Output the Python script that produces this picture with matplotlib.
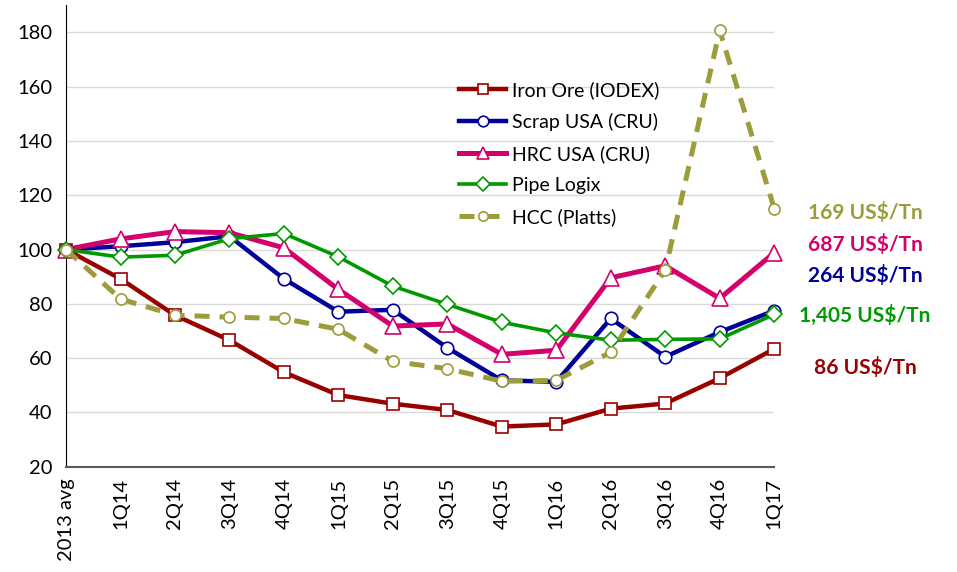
import matplotlib
matplotlib.use('Agg')
import matplotlib.pyplot as plt

plt.rcParams['font.family'] = ['Lato', 'DejaVu Sans']

# quarters
quarters = ['2013 avg', '1Q14', '2Q14', '3Q14', '4Q14', '1Q15', '2Q15', '3Q15',
            '4Q15', '1Q16', '2Q16', '3Q16', '4Q16', '1Q17']

# indices (2013 avg = 100)
iron_ore = [100, 89.2, 75.8, 66.6, 54.8, 46.4, 43.2, 40.9, 34.8, 35.6, 41.4, 43.3, 52.6, 63.4]
scrap_usa = [100, 101.2, 102.7, 104.9, 89.2, 77.1, 77.8, 63.8, 51.8, 51.3, 74.6, 60.5, 69.6, 77.5]
hrc_usa = [100, 103.9, 106.6, 106.2, 100.6, 85.3, 71.8, 72.6, 61.4, 62.9, 89.6, 94.0, 82.0, 98.8]
pipe_logix = [100, 97.2, 97.9, 104.0, 105.9, 97.3, 86.5, 79.8, 73.2, 69.3, 66.6, 66.9, 67.1, 76.1]
hcc_platts = [100, 81.8, 75.8, 75.1, 74.6, 70.6, 58.8, 56.1, 51.5, 51.8, 62.2, 92.4, 180.7, 115.1]

price_labels = ['169 US$/Tn', '687 US$/Tn', '264 US$/Tn', '1,405 US$/Tn', '86 US$/Tn']

c_iron = '#990000'
c_scrap = '#000099'
c_hrc = '#D4006C'
c_pipe = '#009900'
c_hcc = '#9C9C3A'

fig = plt.figure(figsize=(9.57, 5.72), dpi=100)
ax = fig.add_axes([0.069, 0.184, 0.74, 0.807])

x = list(range(len(quarters)))

ax.plot(x, iron_ore, color=c_iron, lw=3.2, marker='s', ms=9, mfc='white', mec=c_iron,
        mew=1.2, label='Iron Ore (IODEX)', clip_on=False, zorder=3)
ax.plot(x, scrap_usa, color=c_scrap, lw=3.2, marker='o', ms=9, mfc='white', mec=c_scrap,
        mew=1.2, label='Scrap USA (CRU)', clip_on=False, zorder=3)
ax.plot(x, hrc_usa, color=c_hrc, lw=3.6, marker='^', ms=11, mfc='white', mec=c_hrc,
        mew=1.2, label='HRC USA (CRU)', clip_on=False, zorder=3)
ax.plot(x, pipe_logix, color=c_pipe, lw=2.6, marker='D', ms=8.5, mfc='white', mec=c_pipe,
        mew=1.2, label='Pipe Logix', clip_on=False, zorder=3)
ax.plot(x, hcc_platts, color=c_hcc, lw=3.6, ls=(0, (3, 2)), marker='o', ms=8, mfc='white',
        mec=c_hcc, mew=1.2, label='HCC (Platts)', clip_on=False, zorder=4)

ax.set_xlim(0, 13)
ax.set_ylim(20, 190)
ax.set_yticks(range(20, 181, 20))
ax.set_xticks(x)
ax.set_xticklabels(quarters, rotation=90, fontsize=14.5)
ax.tick_params(axis='y', labelsize=14.5, length=0, pad=10)
ax.tick_params(axis='x', length=0, pad=8)
ax.yaxis.grid(True, color='#d9d9d9', lw=1)
ax.set_axisbelow(True)
for s in ['top', 'right']:
    ax.spines[s].set_visible(False)
ax.spines['left'].set_color('black')
ax.spines['bottom'].set_color('#595959')
ax.spines['bottom'].set_linewidth(1.5)

leg = ax.legend(loc='upper left', bbox_to_anchor=(0.536, 0.865), frameon=False,
                fontsize=14, handlelength=2.4, handletextpad=0.3, labelspacing=0.72,
                borderpad=0.2, markerscale=0.85)

# price annotations on the right
label_colors = [c_hcc, c_hrc, c_scrap, c_pipe, c_iron]
label_y = [113.6, 102.0, 90.5, 75.8, 56.4]
for txt, col, yy in zip(price_labels, label_colors, label_y):
    ax.text(14.67, yy, txt, color=col, fontsize=15, fontweight='bold',
            ha='center', va='center', clip_on=False)

fig.savefig('out.png', dpi=100)
